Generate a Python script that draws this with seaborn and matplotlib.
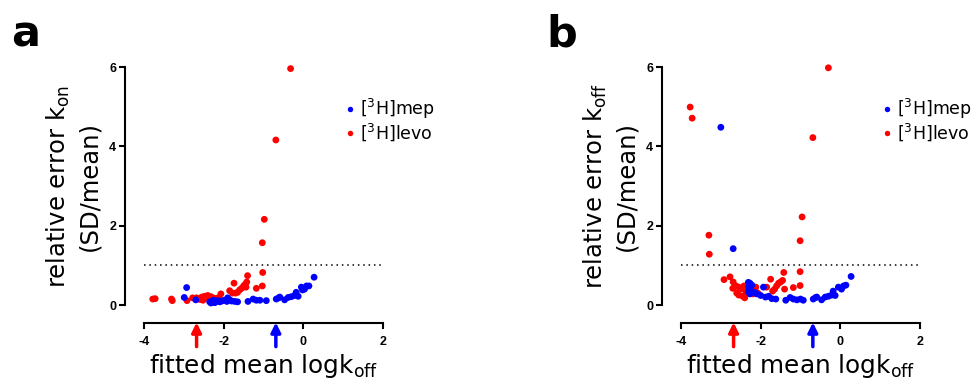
import numpy as np
import pandas as pd
import matplotlib
matplotlib.use("Agg")
import matplotlib.pyplot as plt
import seaborn as sns

# panel a: relative error of kon vs fitted mean logkoff
mep_x_a = [-2.99, -2.93, -2.70, -2.35, -2.32, -2.30, -2.28, -2.25, -2.22, -2.20, -2.15, -2.10,
           -2.05, -1.98, -1.92, -1.90, -1.85, -1.80, -1.72, -1.65, -1.39, -1.26, -1.18, -1.09,
           -0.93, -0.68, -0.62, -0.59, -0.47, -0.38, -0.30, -0.22, -0.18, -0.13, -0.05, -0.02,
           0.03, 0.08, 0.14, 0.27]
mep_y_a = [0.19, 0.44, 0.13, 0.08, 0.05, 0.10, 0.07, 0.12, 0.06, 0.09, 0.11, 0.08,
           0.10, 0.12, 0.09, 0.18, 0.13, 0.10, 0.09, 0.08, 0.09, 0.15, 0.12, 0.12,
           0.11, 0.15, 0.18, 0.20, 0.13, 0.19, 0.21, 0.24, 0.32, 0.22, 0.45, 0.38,
           0.40, 0.48, 0.48, 0.70]
levo_x_a = [-3.78, -3.72, -3.31, -3.29, -2.92, -2.78, -2.70, -2.68, -2.62, -2.58, -2.55, -2.52,
            -2.48, -2.45, -2.42, -2.40, -2.36, -2.33, -2.30, -2.25, -2.20, -2.12, -2.07, -1.85,
            -1.78, -1.74, -1.70, -1.65, -1.60, -1.55, -1.50, -1.46, -1.42, -1.40, -1.44, -1.18,
            -1.03, -1.02, -1.03, -0.98, -0.69, -0.32]
levo_y_a = [0.15, 0.16, 0.15, 0.11, 0.11, 0.18, 0.17, 0.18, 0.15, 0.14, 0.20, 0.12,
            0.22, 0.17, 0.18, 0.24, 0.15, 0.21, 0.20, 0.14, 0.17, 0.19, 0.28, 0.36,
            0.30, 0.55, 0.30, 0.32, 0.38, 0.42, 0.48, 0.52, 0.58, 0.74, 0.45, 0.42,
            0.48, 0.82, 1.57, 2.16, 4.16, 5.96]

# panel b: relative error of koff vs fitted mean logkoff
mep_x_b = [-3.00, -2.69, -2.31, -2.27, -2.22, -2.30, -2.25, -2.31, -2.27, -2.15, -2.10, -2.00,
           -1.93, -1.88, -1.80, -1.72, -1.62, -1.37, -1.26, -1.18, -1.09, -1.00, -0.93, -0.68,
           -0.62, -0.59, -0.47, -0.38, -0.30, -0.22, -0.18, -0.13, -0.05, 0.03, 0.08, 0.14, 0.27]
mep_y_b = [4.48, 1.42, 0.57, 0.55, 0.50, 0.45, 0.38, 0.33, 0.28, 0.32, 0.28, 0.24,
           0.45, 0.20, 0.22, 0.16, 0.15, 0.12, 0.19, 0.15, 0.13, 0.15, 0.12, 0.15,
           0.19, 0.20, 0.13, 0.20, 0.22, 0.25, 0.35, 0.24, 0.45, 0.40, 0.48, 0.50, 0.72]
levo_x_b = [-3.77, -3.72, -3.30, -3.29, -2.92, -2.77, -2.69, -2.70, -2.62, -2.55, -2.60, -2.55,
            -2.48, -2.45, -2.42, -2.40, -2.36, -2.30, -2.25, -2.20, -2.12, -2.07, -1.85, -1.75,
            -1.70, -1.65, -1.60, -1.55, -1.50, -1.45, -1.42, -1.40, -1.18, -1.01, -1.01, -1.01,
            -0.96, -0.69, -0.30]
levo_y_b = [4.99, 4.71, 1.76, 1.28, 0.64, 0.71, 0.58, 0.42, 0.48, 0.45, 0.30, 0.25,
            0.40, 0.22, 0.48, 0.18, 0.32, 0.42, 0.35, 0.28, 0.45, 0.30, 0.45, 0.65,
            0.35, 0.40, 0.48, 0.55, 0.58, 0.62, 0.82, 0.40, 0.44, 0.49, 0.84, 1.62,
            2.22, 4.22, 5.98]

threshold = 1.0
arrow_levo = -2.68
arrow_mep = -0.69
labels = {"levo": r"[$^{3}$H]levo", "mep": r"[$^{3}$H]mep"}
colors = {labels["mep"]: "#0000ff", labels["levo"]: "#ff0000"}

sns.set_style("ticks", rc={"text.color": "black", "axes.labelcolor": "black",
                           "xtick.color": "black", "ytick.color": "black",
                           "axes.edgecolor": "black"})
plt.rcParams["font.family"] = ["DejaVu Sans"]
plt.rcParams["axes.unicode_minus"] = False
plt.rcParams["mathtext.fontset"] = "dejavusans"


def make_df(mx, my, lx, ly):
    # levo first so mep is drawn on top
    d1 = pd.DataFrame({"x": lx, "y": ly, "ligand": labels["levo"]})
    d2 = pd.DataFrame({"x": mx, "y": my, "ligand": labels["mep"]})
    return pd.concat([d1, d2], ignore_index=True)


fig = plt.figure(figsize=(9.74, 3.82), dpi=100)
ax_a = fig.add_axes([144 / 974, 1 - 305 / 382, 239 / 974, 238 / 382])
ax_b = fig.add_axes([681 / 974, 1 - 305 / 382, 239 / 974, 238 / 382])

panels = [
    (ax_a, make_df(mep_x_a, mep_y_a, levo_x_a, levo_y_a), r"relative error k$_{\mathregular{on}}$", "a", 0.011),
    (ax_b, make_df(mep_x_b, mep_y_b, levo_x_b, levo_y_b), r"relative error k$_{\mathregular{off}}$", "b", 0.561),
]

for ax, df, ylab, letter, lx in panels:
    sns.scatterplot(data=df, x="x", y="y", hue="ligand", palette=colors,
                    hue_order=[labels["mep"], labels["levo"]],
                    s=24, linewidth=0, ax=ax, clip_on=False)
    ax.axhline(threshold, color="black", ls=(0, (1, 2.5)), lw=1.1)

    ax.set_xlim(-4, 2)
    ax.set_ylim(0, 6)
    ax.set_xticks([-4, -2, 0, 2])
    ax.set_yticks([0, 2, 4, 6])
    sns.despine(ax=ax)
    ax.spines["left"].set_position(("outward", 14))
    ax.spines["bottom"].set_position(("outward", 13))
    for sp in ["left", "bottom"]:
        ax.spines[sp].set_linewidth(1.5)
    ax.tick_params(direction="out", length=4, width=1.5, labelsize=9, pad=2)
    ax.tick_params(axis="x", pad=5)
    for t in ax.get_xticklabels() + ax.get_yticklabels():
        t.set_fontweight("bold")
        t.set_family("Liberation Sans")

    ax.set_xlabel(r"fitted mean logk$_{\mathregular{off}}$", fontsize=17.8, labelpad=3)
    ax.set_ylabel("")
    pos = ax.get_position()
    fig.text(pos.x0 - 71 / 974, 1 - 186 / 382, ylab + "\n(SD/mean)", rotation=90,
             ha="center", va="center", fontsize=17.5, multialignment="center",
             linespacing=1.3)

    # arrows marking the mean logkoff of each ligand
    for xv, c in [(arrow_levo, "#ff0000"), (arrow_mep, "#0000ff")]:
        ax.annotate("", xy=(xv, -0.44), xytext=(xv, -1.05),
                    arrowprops=dict(arrowstyle="-|>", color=c, lw=2.5, mutation_scale=14,
                                    shrinkA=0, shrinkB=0),
                    annotation_clip=False)

    ax.legend(loc="upper left", bbox_to_anchor=(0.845, 0.875), frameon=False,
              fontsize=12.5, handlelength=0.5, handletextpad=0.3, labelspacing=0.05,
              markerscale=0.8, borderpad=0, borderaxespad=0)
    fig.text(lx, 0.965, letter, fontsize=31, fontweight="bold", va="top")

fig.savefig("out.png", dpi=100)
